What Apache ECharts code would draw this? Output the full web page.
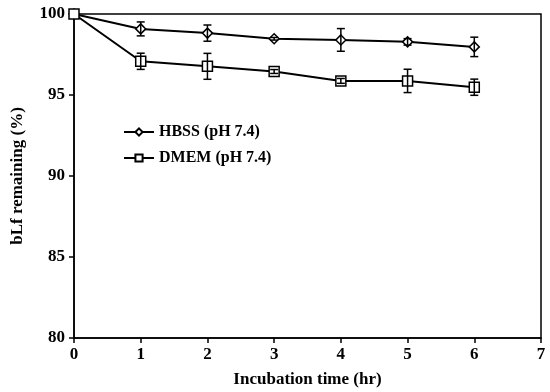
<!DOCTYPE html>
<html><head><meta charset="utf-8">
<script src="https://cdn.jsdelivr.net/npm/echarts@6/dist/echarts.min.js"></script>
<style>html,body{margin:0;padding:0;background:#fff}#c{width:550px;height:392px}</style>
</head><body><div id="c"></div>
<script>
const times = [0, 1, 2, 3, 4, 5, 6];
const hbss = [100, 99.08, 98.82, 98.47, 98.4, 98.28, 97.97];
const hbssErr = [0, 0.43, 0.5, 0.08, 0.7, 0.2, 0.6];
const dmem = [100, 97.08, 96.77, 96.45, 95.87, 95.87, 95.48];
const dmemErr = [0, 0.5, 0.8, 0.12, 0.15, 0.72, 0.5];
const xTicks = [0, 1, 2, 3, 4, 5, 6, 7];
const yTicks = [80, 85, 90, 95, 100];

const font = 'Liberation Serif';
const pts = (v) => times.map((t, i) => [t, v[i]]);
const errs = (v, e) => times.map((t, i) => [t, v[i] - e[i], v[i] + e[i]]);

function errRender(params, api) {
  const x = api.value(0);
  const lo = api.coord([x, api.value(1)]);
  const hi = api.coord([x, api.value(2)]);
  if (Math.abs(hi[1] - lo[1]) < 1) return null;
  const w = 4;
  const st = { stroke: '#000', lineWidth: 1.5 };
  return { type: 'group', children: [
    { type: 'line', shape: { x1: lo[0], y1: lo[1], x2: hi[0], y2: hi[1] }, style: st },
    { type: 'line', shape: { x1: lo[0] - w, y1: lo[1], x2: lo[0] + w, y2: lo[1] }, style: st },
    { type: 'line', shape: { x1: hi[0] - w, y1: hi[1], x2: hi[0] + w, y2: hi[1] }, style: st }
  ]};
}

const chart = echarts.init(document.getElementById('c'));
chart.setOption({
  animation: false,
  backgroundColor: '#fff',
  textStyle: { fontFamily: font },
  grid: { left: 74, right: 9, top: 14, bottom: 54, outerBoundsMode: 'none', containLabel: false,
    show: true, borderColor: '#000', borderWidth: 1.5, backgroundColor: 'transparent' },
  legend: {
    orient: 'vertical', left: 118, top: 119, itemGap: 10, itemWidth: 30, itemHeight: 9,
    textStyle: { fontFamily: font, fontWeight: 'bold', fontSize: 16, color: '#000' },
    data: ['HBSS (pH 7.4)', 'DMEM (pH 7.4)']
  },
  xAxis: {
    type: 'value', min: 0, max: 7, interval: 1,
    name: 'Incubation time (hr)', nameLocation: 'middle', nameGap: 33,
    nameTextStyle: { fontFamily: font, fontWeight: 'bold', fontSize: 17, color: '#000' },
    axisLine: { lineStyle: { color: '#000', width: 1.5 } },
    axisTick: { show: true, length: 5, lineStyle: { color: '#000', width: 1.5 } },
    axisLabel: { fontFamily: font, fontWeight: 'bold', fontSize: 17, color: '#000', margin: 8,
      formatter: (v) => xTicks.includes(v) ? String(v) : '' },
    splitLine: { show: false }
  },
  yAxis: {
    type: 'value', min: 80, max: 100, interval: 5,
    name: 'bLf remaining (%)', nameLocation: 'middle', nameGap: 48,
    nameTextStyle: { fontFamily: font, fontWeight: 'bold', fontSize: 17, color: '#000' },
    axisLine: { show: true, lineStyle: { color: '#000', width: 1.5 } },
    axisTick: { show: true, length: 5, lineStyle: { color: '#000', width: 1.5 } },
    axisLabel: { fontFamily: font, fontWeight: 'bold', fontSize: 17, color: '#000', margin: 9,
      formatter: (v) => yTicks.includes(v) ? String(v) : '' },
    splitLine: { show: false }
  },
  series: [
    { name: 'HBSS (pH 7.4)', type: 'line', data: pts(hbss), symbol: 'diamond', symbolSize: 10,
      lineStyle: { color: '#000', width: 2 }, itemStyle: { color: '#fff', borderColor: '#000', borderWidth: 1.5 }, z: 3 },
    { name: 'DMEM (pH 7.4)', type: 'line', data: pts(dmem), symbol: 'rect', symbolSize: 10,
      lineStyle: { color: '#000', width: 2 }, itemStyle: { color: '#fff', borderColor: '#000', borderWidth: 1.5 }, z: 3 },
    { type: 'custom', renderItem: errRender, data: errs(hbss, hbssErr), z: 5, silent: true },
    { type: 'custom', renderItem: errRender, data: errs(dmem, dmemErr), z: 5, silent: true }
  ]
});
</script></body></html>
